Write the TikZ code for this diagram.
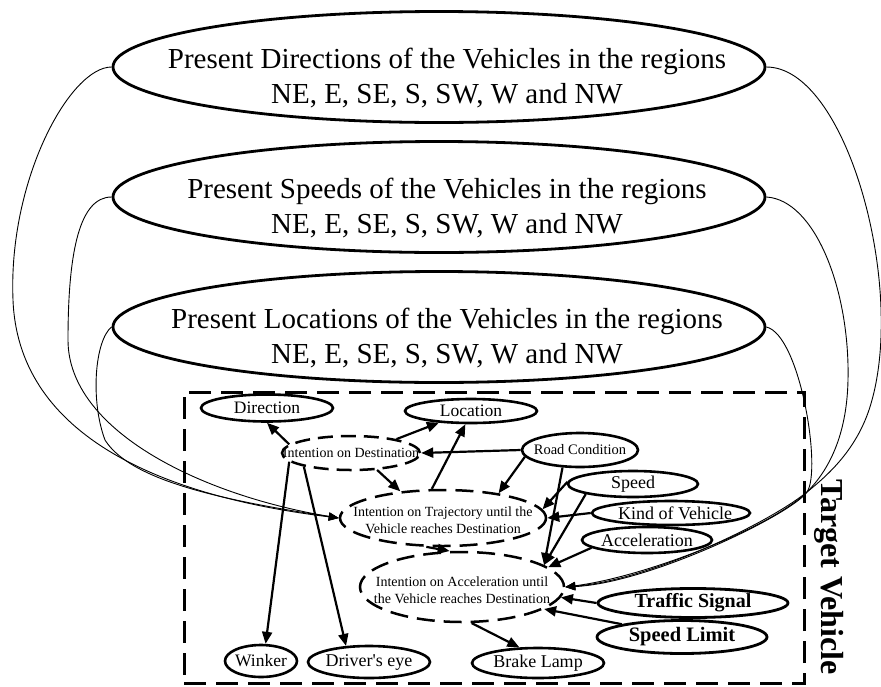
\documentclass[tikz,border=0pt]{standalone}
\usepackage{fontspec}
\setmainfont{Liberation Serif}
\usetikzlibrary{shapes.geometric,arrows.meta}
\begin{document}
\begin{tikzpicture}[x=1pt,y=-1pt,
  bigell/.style={ellipse, draw, line width=2.8pt, minimum width=652pt, minimum height=111pt, inner sep=0pt},
  bigtxt/.style={align=center, font=\fontsize{29}{35}\selectfont, xshift=8pt, yshift=-11pt},
  sell/.style={ellipse, draw, line width=2.6pt, inner sep=0pt},
  dell/.style={ellipse, draw, line width=2.5pt, inner sep=0pt, dash pattern=on 15pt off 8pt},
  fA/.style={font=\fontsize{14}{16.5}\selectfont, align=center},
  fB/.style={font=\fontsize{17.5}{20}\selectfont},
  fC/.style={font=\fontsize{18}{21}\selectfont},
  fD/.style={font=\bfseries\fontsize{20.5}{24}\selectfont},
  arr/.style={line width=2.2pt, -{Triangle[length=12pt,width=10pt]}},
  feed/.style={line width=0.9pt, -{Triangle[length=10pt,width=8pt]}},
  tvframe/.style={draw, line width=3pt, dash pattern=on 22pt off 10pt, minimum width=620pt, minimum height=291pt, inner sep=0pt}
]
% canvas
\fill[white] (0,0) rectangle (881,686);
\useasboundingbox (0,0) rectangle (881,686);

% frame of the target vehicle
\node[tvframe] (tvbox) at (494,537.5) {};
\node[rotate=-90, font=\bfseries\fontsize{32}{36}\selectfont] (tv) at (829,577) {Target Vehicle};

% neighbourhood states
\node[bigell, label={[bigtxt]center:Present Directions of the Vehicles in the regions\\NE, E, SE, S, SW, W and NW}] (dirs) at (439,67) {};
\node[bigell, label={[bigtxt]center:Present Speeds of the Vehicles in the regions\\NE, E, SE, S, SW, W and NW}] (spds) at (439,197) {};
\node[bigell, label={[bigtxt]center:Present Locations of the Vehicles in the regions\\NE, E, SE, S, SW, W and NW}] (locs) at (439,327) {};

% target vehicle variables
\node[sell, minimum width=132pt, minimum height=27pt, label={[fB]center:Direction}] (dir) at (267,408) {};
\node[sell, minimum width=132pt, minimum height=24pt, label={[fB]center:Location}] (loc) at (471,411) {};
\node[dell, minimum width=138pt, minimum height=34pt, label={[fA]center:Intention on Destination}] (iod) at (351,453) {};
\node[sell, minimum width=116pt, minimum height=34pt, label={[fA, font=\fontsize{14.5}{17}\selectfont]center:Road Condition}] (road) at (580,450) {};
\node[dell, minimum width=206pt, minimum height=56pt, dash pattern=on 18pt off 9pt, label={[fA, yshift=-2pt]center:Intention on Trajectory until the\\Vehicle reaches Destination}] (iot) at (443,518) {};
\node[sell, minimum width=130pt, minimum height=26pt, label={[fC]center:Speed}] (spd) at (633,484) {};
\node[sell, minimum width=158pt, minimum height=24pt, label={[fC, xshift=4pt]center:Kind of Vehicle}] (kov) at (671,513) {};
\node[sell, minimum width=130pt, minimum height=26pt, label={[fC]center:Acceleration}] (acc) at (647,540) {};
\node[dell, minimum width=204pt, minimum height=70pt, dash pattern=on 18pt off 9pt, label={[fA, yshift=-3pt]center:Intention on Acceleration until\\the Vehicle reaches Destination}] (ioa) at (462,587) {};
\node[sell, line width=2.8pt, minimum width=190pt, minimum height=29pt, label={[fD, font=\bfseries\fontsize{20}{24}\selectfont]center:Traffic Signal}] (tsig) at (693,603) {};
\node[sell, line width=2.8pt, minimum width=170pt, minimum height=33pt, label={[fD]center:Speed Limit}] (slim) at (682,637) {};
\node[sell, minimum width=132pt, minimum height=30pt, label={[fC]center:Brake Lamp}] (brake) at (538,663) {};
\node[sell, minimum width=72pt, minimum height=32pt, label={[fB]center:Winker}] (wink) at (261,661) {};
\node[sell, minimum width=122pt, minimum height=32pt, label={[fC]center:Driver\textquotesingle s eye}] (deye) at (369,662) {};

% dependencies inside the target vehicle
\draw[arr] (iod.172) -- (dir.south);
\draw[arr] (iod.17) -- (loc.-160);
\draw[arr] (road.west) -- (iod.east);
\draw[arr] (iod.-33) -- (iot.148);
\draw[arr] (iot.111) -- (loc.-113);
\draw[arr] (road.-173) -- (iot.24);
\draw[arr] (road.-135) -- (ioa.15);
\draw[arr] (spd.178) -- (iot.5);
\draw[arr] (spd.-168) -- (ioa.15);
\draw[arr] (kov.west) -- (iot.east);
\draw[arr] (acc.-172) -- (ioa.13);
\draw[arr] (tsig.west) -- (ioa.-6);
\draw[arr] (slim.168) -- (ioa.-15);
\draw[arr] (ioa.-75) -- (brake.140);
\draw[arr] (iot.-120) -- (ioa.109);
\draw[arr] (iod.-172) -- (wink.75);
\draw[arr] (iod.-164) -- (deye.145);

% neighbourhood states feeding the trajectory intention
\draw[feed] (dirs.west) .. controls (70,67) and (8,180) .. (13,300) .. controls (18,430) and (150,495) .. (iot.west);
\draw[feed] (spds.west) .. controls (80,197) and (68,250) .. (68,340) .. controls (68,430) and (200,495) .. (iot.west);
\draw[feed] (locs.west) .. controls (95,340) and (90,400) .. (105,440) .. controls (130,480) and (220,500) .. (iot.west);

% neighbourhood states feeding the acceleration intention
\draw[feed] (dirs.east) .. controls (845,67) and (905,280) .. (872,400) .. controls (860,445) and (832,472) .. (807,492) .. controls (767,524) and (650,580) .. (ioa.east);
\draw[feed] (spds.east) .. controls (815,200) and (850,290) .. (848,380) .. controls (847,430) and (832,467) .. (807,492) .. controls (770,528) and (645,577) .. (ioa.east);
\draw[feed] (locs.east) .. controls (800,335) and (822,470) .. (807,492) .. controls (792,514) and (650,583) .. (ioa.east);
\end{tikzpicture}
\end{document}
